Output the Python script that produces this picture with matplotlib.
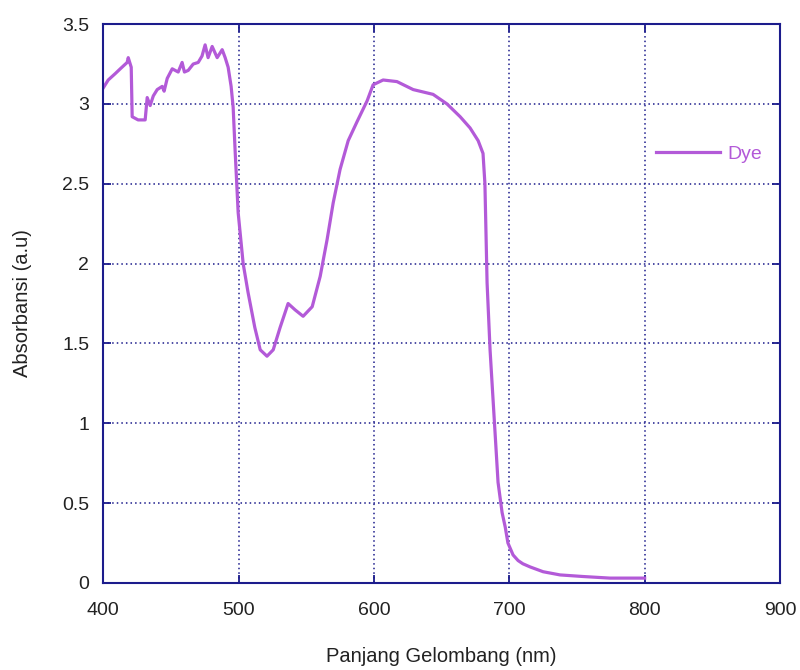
import numpy as np
import matplotlib.pyplot as plt

plt.rcParams['font.family'] = ['Liberation Sans', 'DejaVu Sans']

# spektrum absorbansi dye
wl = [400, 403.7, 408.9, 412.6, 417.7, 418.5, 420.7, 421.4, 425.8, 431, 432.5,
      434.7, 437, 439.9, 443.6, 445, 447.3, 451, 455.4, 458.3, 460, 462.8,
      466.5, 470.2, 473, 475.3, 477.5, 480.5, 484.2, 487.9, 490.1, 492.3,
      494.5, 496, 497.5, 499.7, 503.4, 507, 512, 516, 521, 525.6, 530.7,
      536.6, 541.8, 547.7, 554.4, 560.3, 565.4, 569.9, 575, 581, 587.6, 595,
      599.4, 606.8, 617, 629, 643.7, 654, 663.7, 671, 677, 680.6, 682, 683.6,
      685.8, 688, 689.5, 691.7, 694.7, 697, 699, 702.8, 706.5, 710, 715.4,
      725, 737.5, 754.5, 774.4, 800]
absb = [3.10, 3.15, 3.19, 3.22, 3.26, 3.29, 3.23, 2.92, 2.90, 2.90, 3.04,
        2.99, 3.05, 3.09, 3.11, 3.08, 3.16, 3.22, 3.20, 3.26, 3.20, 3.21,
        3.25, 3.26, 3.30, 3.37, 3.29, 3.36, 3.29, 3.34, 3.29, 3.23,
        3.11, 2.98, 2.70, 2.32, 2.00, 1.82, 1.60, 1.46, 1.42, 1.46, 1.60,
        1.75, 1.71, 1.67, 1.73, 1.92, 2.15, 2.38, 2.59, 2.77, 2.89, 3.02,
        3.12, 3.15, 3.14, 3.09, 3.06, 3.00, 2.92, 2.85, 2.77, 2.69, 2.50,
        1.88, 1.46, 1.15, 0.94, 0.63, 0.44, 0.35, 0.25, 0.175, 0.14, 0.12,
        0.10, 0.07, 0.05, 0.04, 0.03, 0.03]

navy = '#1c1c8c'
ungu = '#b35ad8'

fig = plt.figure(figsize=(8, 6.7), dpi=100)
ax = fig.add_axes([0.129, 0.130, 0.846, 0.834])

ax.plot(wl, absb, color=ungu, lw=2.3, label='Dye')

ax.set_xlim(400, 900)
ax.set_ylim(0, 3.5)
ax.set_xticks(np.arange(400, 901, 100))
ax.set_yticks(np.arange(0, 3.51, 0.5))
ax.set_yticklabels(['0', '0.5', '1', '1.5', '2', '2.5', '3', '3.5'])

ax.grid(True, color=navy, linestyle=(0, (1, 2)), lw=1.1)
for s in ax.spines.values():
    s.set_color(navy)
    s.set_linewidth(1.5)
ax.tick_params(direction='in', length=6, width=1.3, color=navy,
               top=True, right=True, labelsize=14, labelcolor='#222222')
ax.tick_params(axis='x', pad=14)
ax.tick_params(axis='y', pad=10)

ax.set_xlabel('Panjang Gelombang (nm)', fontsize=14.5, color='#222222', labelpad=20)
ax.set_ylabel('Absorbansi (a.u)', fontsize=14.5, color='#222222', labelpad=22)

ax.legend(loc='upper right', bbox_to_anchor=(1.0, 0.815), frameon=False,
          fontsize=14, handlelength=3.3, labelcolor='linecolor', handletextpad=0.4)

fig.savefig('out.png', dpi=100)
